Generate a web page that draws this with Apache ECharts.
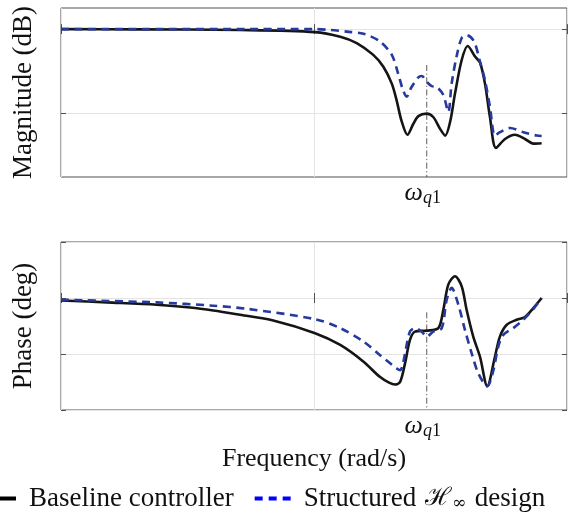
<!DOCTYPE html>
<html><head><meta charset="utf-8">
<script src="https://cdn.jsdelivr.net/npm/echarts@6/dist/echarts.min.js"></script>
<style>html,body{margin:0;padding:0;background:#fff}#c{width:576px;height:516px}</style>
</head><body><div id="c"></div>
<script>
// ---- data ----
const seriesNames = ['Baseline controller', 'Structured ℋ∞ design'];
// [frequency (rad/s), magnitude (dB)]
const magBaseline = [[1,0],[2,-0.05],[5.1,-0.2],[10.1,-0.7],[12.7,-1.8],[14.75,-3.3],[17.15,-6.1],[18.8,-8.9],[20.3,-12.9],[21.2,-16.8],[22.2,-21.8],[23.4,-25],[24.7,-22.4],[25.85,-20.6],[27.9,-20],[29.6,-20.8],[31.5,-23.6],[33,-25.2],[34.5,-22],[36.1,-15.2],[38.35,-7.3],[40.5,-4],[43.3,-6.5],[45.3,-7.9],[47.4,-12.9],[49.6,-20.8],[52.4,-28.1],[56.9,-26],[62.3,-25],[68.2,-26],[73.6,-27.1],[79.4,-27]];
const magStructured = [[1,0],[10.1,0],[11.6,-0.2],[13.5,-0.6],[15.7,-1.1],[18.2,-2.9],[20.3,-6.1],[21.5,-10.5],[22.5,-14.5],[23.25,-16],[24.3,-13.7],[25.85,-11.4],[26.65,-11.1],[27.9,-12.5],[29.2,-13.5],[30.55,-13.7],[32.45,-15.6],[33.95,-19.6],[35.0,-12.9],[36.6,-6.5],[38.35,-2.1],[40.1,-1.4],[42.9,-2.9],[45.3,-7.7],[47.4,-12.1],[49.6,-18.4],[51.9,-25.2],[54.3,-24.4],[59.5,-23.4],[67.2,-24.4],[75.9,-25.2],[79.4,-25.3]];
// [frequency (rad/s), phase (deg)]
const phaseBaseline = [[1,-3.9],[1.52,-7.1],[2.39,-10.8],[3.24,-15.2],[4.0,-20],[5.1,-27],[6.9,-36.2],[10.1,-56.6],[12.7,-75.5],[15.7,-102.4],[18.2,-126.7],[19.8,-136],[20.9,-139],[21.9,-134.8],[22.9,-105],[23.95,-67.4],[25.07,-54],[27.9,-52.4],[31.0,-48.5],[32.45,-18.9],[33.95,21.5],[36.07,35],[38.35,18.8],[40.1,-18.9],[42.6,-62],[45.3,-94.4],[48.4,-141.7],[51.9,-94.4],[54.3,-62],[57.8,-43],[63.3,-35],[68.2,-30.7],[73.6,-16.2],[79.4,0]];
const phaseStructured = [[1,-2.7],[2.39,-7.1],[4.0,-12.4],[5.42,-17.3],[10.1,-34],[12.7,-48.5],[15.7,-70],[18.2,-91.6],[20.0,-105],[21.2,-113],[21.9,-116],[22.4,-108],[22.9,-89],[23.95,-54],[25.07,-48.5],[26.65,-54],[27.9,-62],[29.6,-54],[31.96,-48.5],[33.46,-2.7],[35.0,16.2],[37.2,-10.8],[39.5,-51.3],[42.0,-88.9],[44.6,-121],[48.4,-141.7],[51.2,-115.9],[53.5,-78],[56.0,-59.3],[61.3,-48.5],[67.2,-35],[73.6,-17.8],[79.4,0]];
const wq1 = 27.9;
const wq1MagSpan = [-8.5, -35];
const wq1PhaseSpan = [-23, -180];
const freqRange = [1, 100];
const magRange = [-35, 5];
const magTicks = [-20, 0];
const phaseRange = [-180, 90];
const phaseInterval = 90;

// ---- styles ----
const SERIF = "'Liberation Serif', 'DejaVu Serif', serif";
const TXT = '#111';
const AX = '#505050';
const GRIDC = '#e4e4e4';
const CLEAR = 'rgba(0,0,0,0)';

function xAx(gridIndex, pos, extra) {
  return Object.assign({
    type: 'log', logBase: 10, gridIndex, position: pos, min: freqRange[0], max: freqRange[1],
    axisLine: { show: false },
    axisTick: { show: true, inside: true, length: 5, lineStyle: { color: AX } },
    axisLabel: { show: false },
    splitLine: { show: pos === 'bottom', lineStyle: { color: GRIDC, width: 1 } },
    minorTick: { show: false }, minorSplitLine: { show: false }
  }, extra || {});
}
function yMag(pos, extra) {
  return Object.assign({
    type: 'value', gridIndex: 0, position: pos, min: magRange[0], max: magRange[1],
    axisLine: { show: false },
    axisTick: { show: true, inside: true, length: 5, lineStyle: { color: AX }, customValues: magTicks },
    axisLabel: { show: false, customValues: magTicks },
    splitLine: { show: pos === 'left', lineStyle: { color: GRIDC, width: 1 } }
  }, extra || {});
}
function yPh(pos, extra) {
  return Object.assign({
    type: 'value', gridIndex: 1, position: pos, min: phaseRange[0], max: phaseRange[1], interval: phaseInterval,
    axisLine: { show: false },
    axisTick: { show: true, inside: true, length: 5, lineStyle: { color: AX } },
    axisLabel: { show: false },
    splitLine: { show: pos === 'left', lineStyle: { color: GRIDC, width: 1 } }
  }, extra || {});
}
const yNameStyle = { fontFamily: SERIF, fontSize: 27, color: TXT };
const xNameStyle = { fontFamily: SERIF, fontSize: 26, color: TXT };
const wLabel = {
  show: true, position: 'bottom', distance: 2, offset: [-4, 0],
  formatter: '{w|ω}{q|q}{o|1}',
  rich: {
    w: { fontFamily: SERIF, fontStyle: 'italic', fontSize: 26, color: TXT },
    q: { fontFamily: SERIF, fontStyle: 'italic', fontSize: 18, color: TXT, padding: [10, 0, 0, 0] },
    o: { fontFamily: SERIF, fontSize: 18, color: TXT, padding: [10, 0, 0, 0] }
  }
};
function wSeries(xi, yi, span) {
  return {
    type: 'line', xAxisIndex: xi, yAxisIndex: yi, silent: true, z: 1,
    symbol: 'circle', symbolSize: 0.1, itemStyle: { color: CLEAR },
    lineStyle: { color: '#333', width: 0.8, type: [6, 2.5, 1.2, 2.5] },
    data: [[wq1, span[0]], { value: [wq1, span[1]], label: wLabel }],
    animation: false
  };
}
function curve(name, xi, yi, data, dashed) {
  return {
    name, type: 'line', xAxisIndex: xi, yAxisIndex: yi, data, smooth: 0.3,
    symbol: 'none', z: dashed ? 4 : 3,
    lineStyle: dashed ? { color: '#26399d', width: 2.6, type: [8, 5.5] } : { color: '#151515', width: 2.6 },
    itemStyle: { color: dashed ? '#26399d' : '#151515' },
    animation: false
  };
}

const chart = echarts.init(document.getElementById('c'), null, { renderer: 'canvas' });
chart.setOption({
  backgroundColor: '#fff',
  animation: false,
  grid: [
    { left: 61, top: 8, width: 506, height: 169, show: true, borderColor: AX, borderWidth: 1, backgroundColor: 'transparent' },
    { left: 61, top: 242, width: 506, height: 168, show: true, borderColor: AX, borderWidth: 1, backgroundColor: 'transparent' }
  ],
  xAxis: [
    xAx(0, 'bottom'),
    xAx(1, 'bottom', { name: 'Frequency (rad/s)', nameLocation: 'middle', nameGap: 36, nameTextStyle: xNameStyle }),
    xAx(0, 'top'),
    xAx(1, 'top')
  ],
  yAxis: [
    yMag('left', { name: 'Magnitude (dB)', nameLocation: 'middle', nameGap: 24, nameTextStyle: yNameStyle }),
    yPh('left', { name: 'Phase (deg)', nameLocation: 'middle', nameGap: 24, nameTextStyle: yNameStyle }),
    yMag('right'),
    yPh('right')
  ],
  legend: {
    left: -27, top: 480, itemWidth: 36, itemHeight: 14, itemGap: 19,
    textStyle: { fontFamily: SERIF, fontSize: 27, color: TXT, padding: [0, 0, 0, 8],
      rich: {
        t: { fontFamily: SERIF, fontSize: 27, color: TXT },
        h: { fontFamily: "'DejaVu Serif', serif", fontSize: 25, color: TXT, padding: [0, 1, 0, 2] },
        s: { fontFamily: "'DejaVu Serif', serif", fontSize: 17, color: TXT, padding: [10, 2, 0, 0] }
      } },
    formatter: function (n) {
      return n === seriesNames[1] ? '{t|Structured }{h|ℋ}{s|∞}{t| design}' : '{t|' + n + '}';
    },
    data: [
      { name: seriesNames[0], lineStyle: { color: '#000', width: 4 },
        itemStyle: { color: CLEAR, borderColor: CLEAR, borderWidth: 0, opacity: 0 } },
      { name: seriesNames[1], lineStyle: { color: '#0000ff', width: 4, type: [8, 6] },
        itemStyle: { color: CLEAR, borderColor: CLEAR, borderWidth: 0, opacity: 0 } }
    ]
  },
  series: [
    wSeries(0, 0, wq1MagSpan),
    wSeries(1, 1, wq1PhaseSpan),
    curve(seriesNames[0], 0, 0, magBaseline, false),
    curve(seriesNames[1], 0, 0, magStructured, true),
    curve(seriesNames[0], 1, 1, phaseBaseline, false),
    curve(seriesNames[1], 1, 1, phaseStructured, true)
  ]
});
</script></body></html>
